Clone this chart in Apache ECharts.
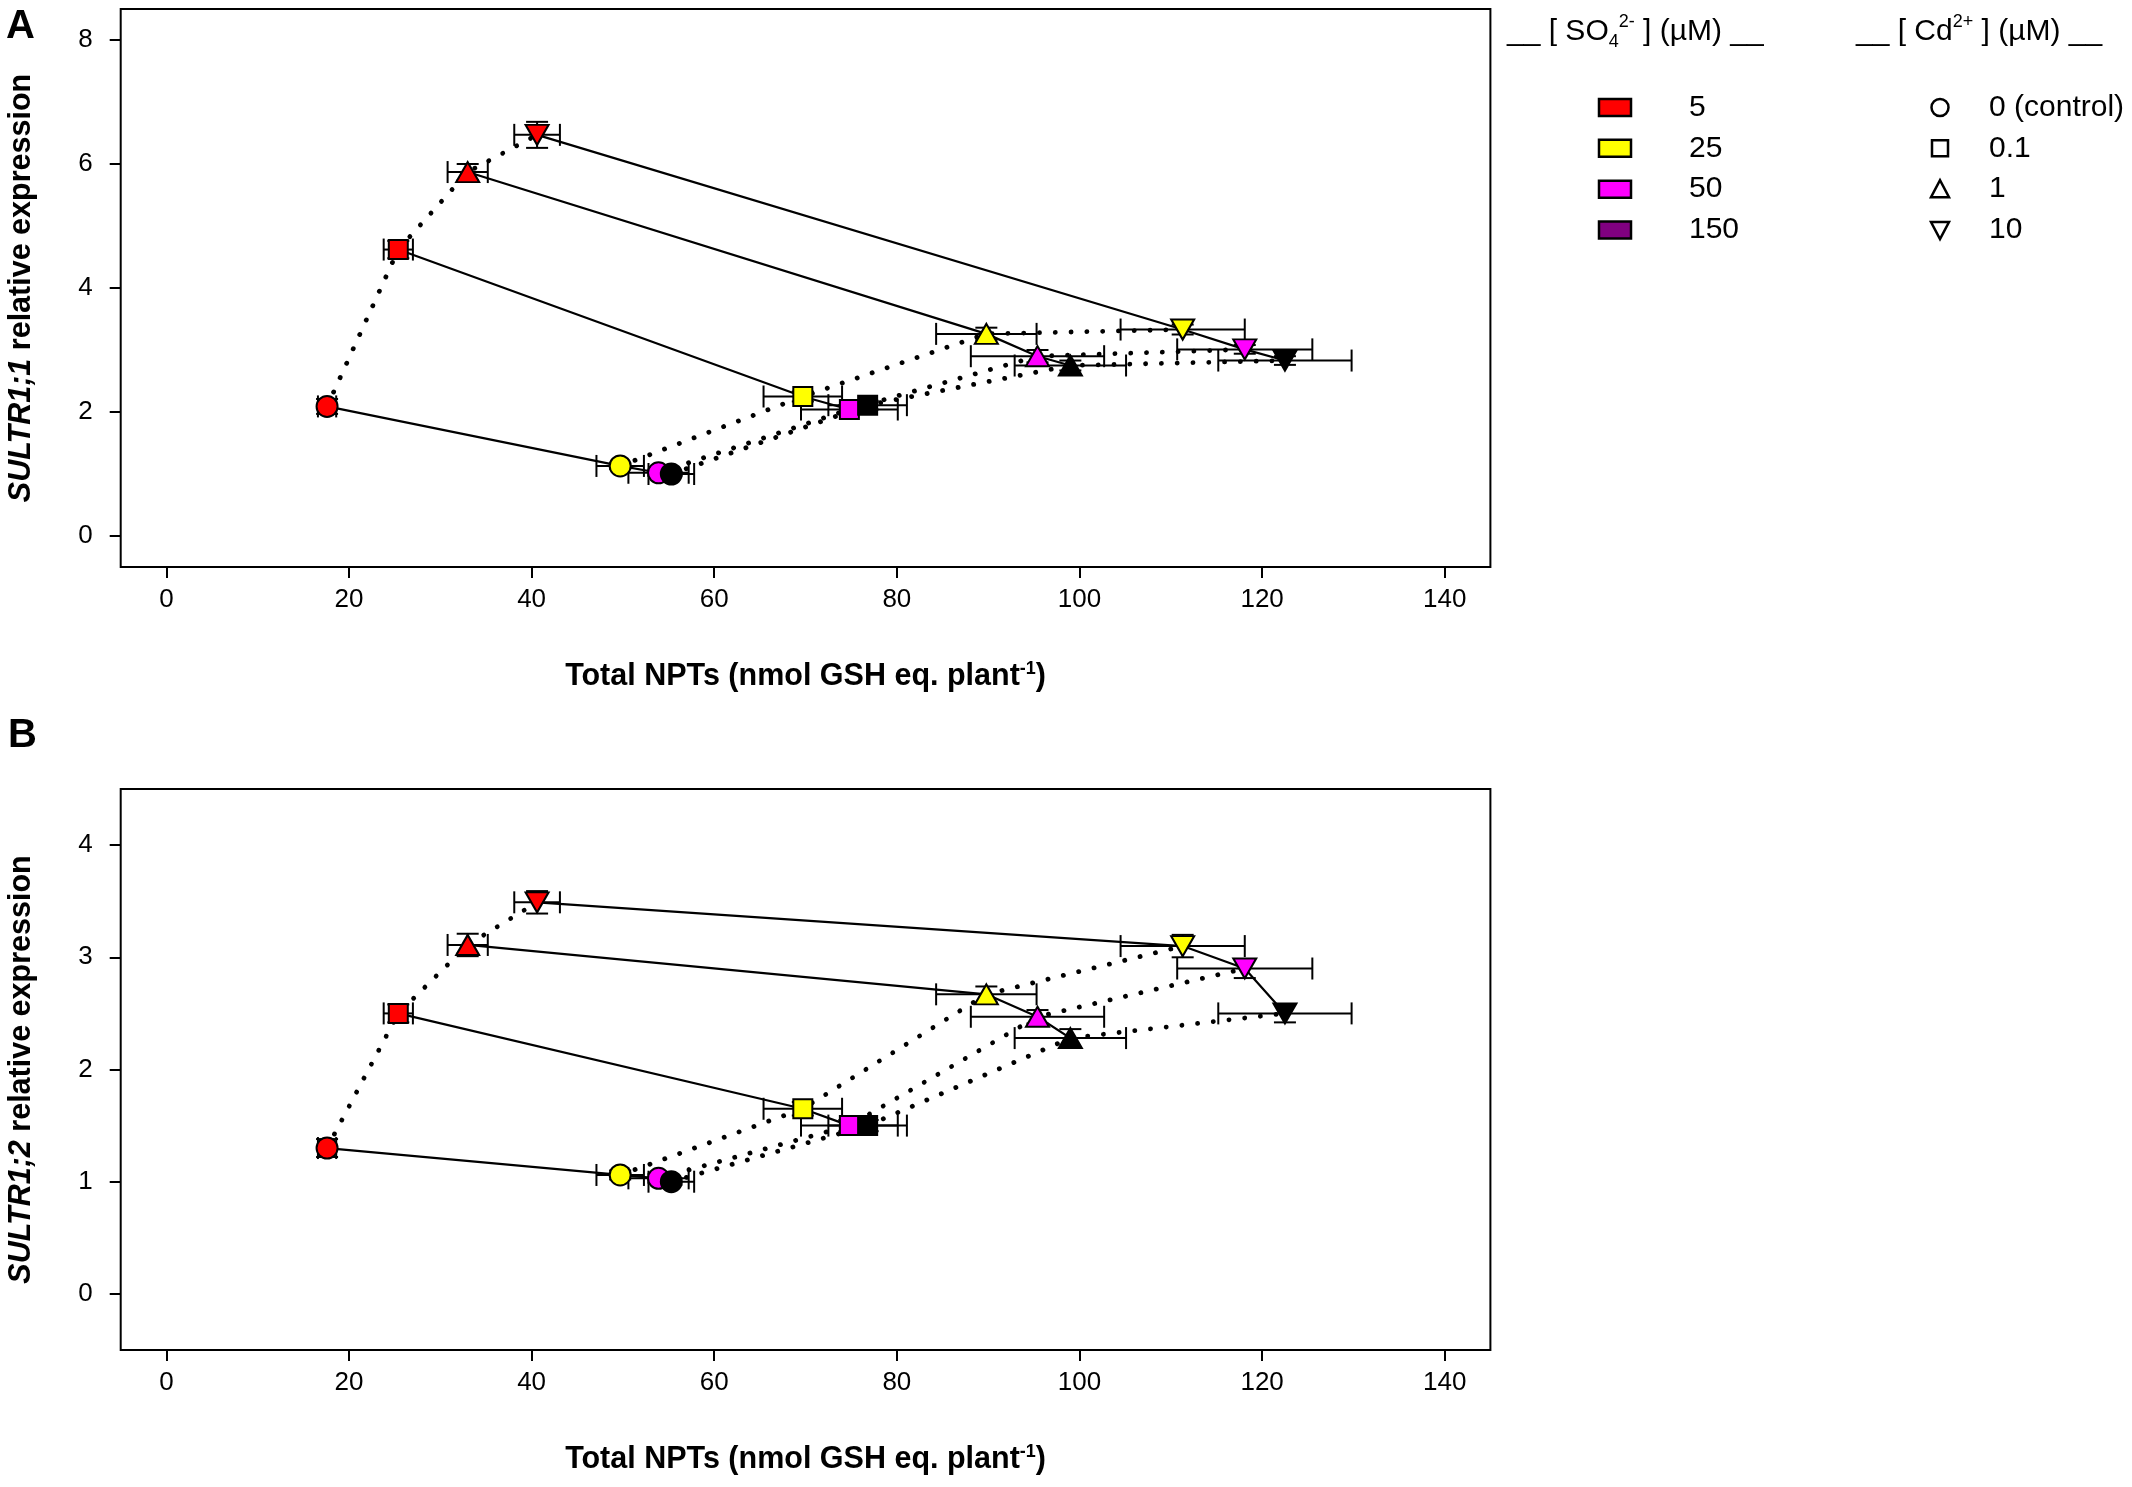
<!DOCTYPE html>
<html><head><meta charset="utf-8">
<script src="https://cdn.jsdelivr.net/npm/echarts@6/dist/echarts.min.js"></script>
<style>html,body{margin:0;padding:0;background:#fff}#c{width:2132px;height:1487px}</style>
</head><body><div id="c"></div>
<script>
// ---- data (rows: Cd level, columns: sulfate level) ----
const sulfateLevels = ['5', '25', '50', '150'];
const sulfateColors = ['#ff0000', '#ffff00', '#ff00ff', '#000000'];
const legendColors = ['#ff0000', '#ffff00', '#ff00ff', '#800080'];
const cdLevels = ['0 (control)', '0.1', '1', '10'];
const cdSymbols = ['circle', 'rect', 'triangle', 'path://M0,0L20,0L10,17Z'];

const npt = [
  [17.6, 49.7, 53.9, 55.3],
  [25.4, 69.7, 74.8, 76.8],
  [33.0, 89.8, 95.4, 99.0],
  [40.6, 111.3, 118.1, 122.5]
];
const nptErr = [
  [1.0, 2.6, 3.3, 2.5],
  [1.6, 4.3, 5.3, 4.3],
  [2.2, 5.5, 7.3, 6.1],
  [2.5, 6.8, 7.4, 7.3]
];
const sultr11 = [
  [2.09, 1.13, 1.02, 1.00],
  [4.62, 2.25, 2.04, 2.11],
  [5.87, 3.26, 2.90, 2.75],
  [6.47, 3.33, 3.01, 2.83]
];
const sultr11Err = [
  [0.12, 0.05, 0.05, 0.03],
  [0.14, 0.08, 0.07, 0.07],
  [0.13, 0.10, 0.10, 0.08],
  [0.21, 0.08, 0.07, 0.07]
];
const sultr12 = [
  [1.30, 1.06, 1.03, 1.00],
  [2.50, 1.65, 1.50, 1.50],
  [3.11, 2.67, 2.47, 2.28],
  [3.49, 3.10, 2.90, 2.50]
];
const sultr12Err = [
  [0.08, 0.04, 0.04, 0.03],
  [0.08, 0.06, 0.05, 0.05],
  [0.10, 0.07, 0.06, 0.08],
  [0.10, 0.10, 0.085, 0.08]
];
const xTicks = [0, 20, 40, 60, 80, 100, 120, 140];
const yTicksA = [0, 2, 4, 6, 8];
const yTicksB = [0, 1, 2, 3, 4];
const xTitle = 'Total NPTs (nmol GSH eq. plant{sup|-1})';
const yTitleA = '{i|SULTR1;1} relative expression';
const yTitleB = '{i|SULTR1;2} relative expression';
const panelLetters = ['A', 'B'];

// ---- styling ----
const FF = '"Liberation Sans", Arial, sans-serif';
const symbolSizes = [21, 19, [23, 20], [23, 20]];

function errRender(params, api) {
  const x = api.value(0), y = api.value(1), xe = api.value(2), ye = api.value(3);
  const pL = api.coord([x - xe, y]), pR = api.coord([x + xe, y]);
  const pT = api.coord([x, y + ye]), pB = api.coord([x, y - ye]);
  const cap = 11;
  const st = { stroke: '#000', lineWidth: 2 };
  const ln = (x1, y1, x2, y2) => ({ type: 'line', shape: { x1, y1, x2, y2 }, style: st });
  return {
    type: 'group',
    children: [
      ln(pL[0], pL[1], pR[0], pR[1]),
      ln(pL[0], pL[1] - cap, pL[0], pL[1] + cap),
      ln(pR[0], pR[1] - cap, pR[0], pR[1] + cap),
      ln(pT[0], pT[1], pB[0], pB[1]),
      ln(pT[0] - cap, pT[1], pT[0] + cap, pT[1]),
      ln(pB[0] - cap, pB[1], pB[0] + cap, pB[1])
    ]
  };
}

function panelSeries(g, yv, ye) {
  const out = [];
  // solid lines: same Cd level across sulfate levels
  for (let c = 0; c < cdLevels.length; c++) {
    out.push({
      type: 'line', xAxisIndex: g, yAxisIndex: g, symbol: 'none', silent: true, z: 1,
      data: sulfateLevels.map((_, s) => [npt[c][s], yv[c][s]]),
      lineStyle: { color: '#000', width: 2.2 }
    });
  }
  // dotted lines: same sulfate level across Cd levels
  for (let s = 0; s < sulfateLevels.length; s++) {
    out.push({
      type: 'line', xAxisIndex: g, yAxisIndex: g, symbol: 'none', silent: true, z: 1,
      data: cdLevels.map((_, c) => [npt[c][s], yv[c][s]]),
      lineStyle: { color: '#000', width: 4.8, type: [0.1, 15.7], cap: 'round' }
    });
  }
  for (let s = 0; s < sulfateLevels.length; s++) {
    out.push({
      type: 'custom', xAxisIndex: g, yAxisIndex: g, silent: true, z: 2,
      renderItem: errRender,
      encode: { x: 0, y: 1 },
      data: cdLevels.map((_, c) => [npt[c][s], yv[c][s], nptErr[c][s], ye[c][s]])
    });
    out.push({
      type: 'scatter', xAxisIndex: g, yAxisIndex: g, silent: true, z: 2,
      itemStyle: { color: sulfateColors[s], borderColor: '#000', borderWidth: 2, opacity: 1 },
      data: cdLevels.map((_, c) => ({
        value: [npt[c][s], yv[c][s]],
        symbol: cdSymbols[c],
        symbolSize: symbolSizes[c]
      }))
    });
  }
  return out;
}

const nameStyle = {
  fontFamily: FF, fontSize: 30.5, fontWeight: 'bold', color: '#000', lineHeight: 34,
  rich: {
    i: { fontFamily: FF, fontSize: 30.5, fontWeight: 'bold', fontStyle: 'italic', color: '#000', lineHeight: 34 },
    sup: { fontFamily: FF, fontSize: 18, fontWeight: 'bold', color: '#000', verticalAlign: 'top', lineHeight: 34 }
  }
};

function xAxisFor(g) {
  return {
    type: 'value', gridIndex: g, min: -5, max: 145, position: 'bottom',
    axisLine: { show: false, onZero: false },
    splitLine: { show: false },
    axisTick: { show: true, customValues: xTicks, length: 11, lineStyle: { color: '#000', width: 2 } },
    axisLabel: { customValues: xTicks, fontFamily: FF, fontSize: 26, color: '#000', margin: 20 },
    name: xTitle, nameLocation: 'middle', nameGap: 93, nameTextStyle: nameStyle
  };
}
function yAxisFor(g, max, ticks, title) {
  return {
    type: 'value', gridIndex: g, min: -0.5, max: max, position: 'left',
    axisLine: { show: false, onZero: false },
    splitLine: { show: false },
    axisTick: { show: true, customValues: ticks, length: 11, lineStyle: { color: '#000', width: 2 } },
    axisLabel: { customValues: ticks, fontFamily: FF, fontSize: 26, color: '#000', margin: 28 },
    name: title, nameLocation: 'middle', nameRotate: 90, nameGap: 82, nameTextStyle: nameStyle
  };
}

// ---- legend graphics ----
const legendRows = [107.5, 148.3, 189.2, 230];
const LF = 30;
const graphics = [];
const titleRich = {
  sub: { fontFamily: FF, fontSize: 18, fill: '#000', verticalAlign: 'bottom', lineHeight: 38 },
  sup: { fontFamily: FF, fontSize: 18, fill: '#000', verticalAlign: 'top', lineHeight: 38 },
  n: { fontFamily: FF, fontSize: LF, fill: '#000', lineHeight: 38 }
};
graphics.push({
  type: 'text', x: 1507, y: 32,
  style: { text: '{n|__ [ SO}{sub|4}{sup|2-}{n| ] (µM) __}', rich: titleRich, fontFamily: FF, fontSize: LF, fill: '#000', verticalAlign: 'middle' }
});
graphics.push({
  type: 'text', x: 1856, y: 32,
  style: { text: '{n|__ [ Cd}{sup|2+}{n| ] (µM) __}', rich: titleRich, fontFamily: FF, fontSize: LF, fill: '#000', verticalAlign: 'middle' }
});
sulfateLevels.forEach((lab, i) => {
  const y = legendRows[i];
  graphics.push({ type: 'rect', shape: { x: 1599, y: y - 8.5, width: 32, height: 17 },
    style: { fill: legendColors[i], stroke: '#000', lineWidth: 2.5 } });
  graphics.push({ type: 'text', x: 1689, y: y,
    style: { text: lab, fontFamily: FF, fontSize: LF, fill: '#000', verticalAlign: 'middle', align: 'left' } });
});
cdLevels.forEach((lab, i) => {
  const y = legendRows[i], cx = 1940;
  const st = { fill: 'none', stroke: '#000', lineWidth: 2.5 };
  const sym = cdSymbols[i];
  if (sym === 'circle') graphics.push({ type: 'circle', shape: { cx: cx, cy: y, r: 8.5 }, style: st });
  else if (sym === 'rect') graphics.push({ type: 'rect', shape: { x: cx - 8, y: y - 8, width: 16, height: 16 }, style: st });
  else if (sym === 'triangle') graphics.push({ type: 'polygon', shape: { points: [[cx - 9, y + 8], [cx + 9, y + 8], [cx, y - 9]] }, style: st });
  else graphics.push({ type: 'polygon', shape: { points: [[cx - 9, y - 8], [cx + 9, y - 8], [cx, y + 9]] }, style: st });
  graphics.push({ type: 'text', x: 1989, y: y,
    style: { text: lab, fontFamily: FF, fontSize: LF, fill: '#000', verticalAlign: 'middle', align: 'left' } });
});
graphics.push({ type: 'text', x: 6, y: 27, style: { text: panelLetters[0], fontFamily: FF, fontSize: 40, fontWeight: 'bold', fill: '#000', verticalAlign: 'middle' } });
graphics.push({ type: 'text', x: 8, y: 736, style: { text: panelLetters[1], fontFamily: FF, fontSize: 40, fontWeight: 'bold', fill: '#000', verticalAlign: 'middle' } });

const chart = echarts.init(document.getElementById('c'), null, { renderer: 'canvas' });
chart.setOption({
  animation: false,
  backgroundColor: '#fff',
  grid: [
    { left: 120.7, top: 9, width: 1369.7, height: 558, show: true, borderColor: '#000', borderWidth: 2, containLabel: false, outerBoundsMode: 'none' },
    { left: 120.7, top: 789, width: 1369.7, height: 561, show: true, borderColor: '#000', borderWidth: 2, containLabel: false, outerBoundsMode: 'none' }
  ],
  xAxis: [xAxisFor(0), xAxisFor(1)],
  yAxis: [yAxisFor(0, 8.5, yTicksA, yTitleA), yAxisFor(1, 4.5, yTicksB, yTitleB)],
  series: panelSeries(0, sultr11, sultr11Err).concat(panelSeries(1, sultr12, sultr12Err)),
  graphic: graphics
});
</script>
</body></html>
